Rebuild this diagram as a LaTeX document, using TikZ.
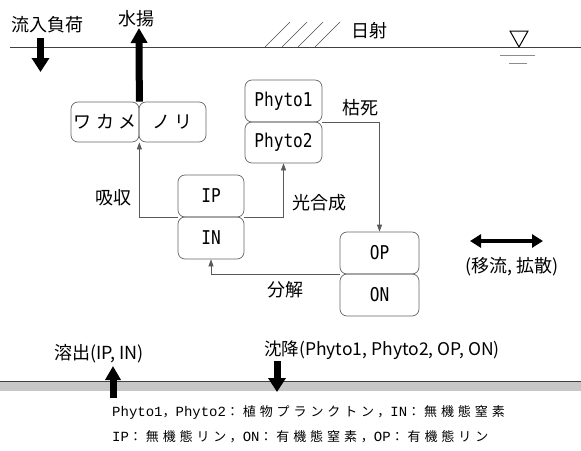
\documentclass[tikz,border=0pt]{standalone}
\usepackage{fontspec}
\setmainfont{Noto Sans CJK JP}
\newfontfamily\monofont[FakeStretch=0.85]{DejaVu Sans Mono}
\newfontfamily\boxjp[LetterSpace=25]{Noto Sans CJK JP}
\newfontfamily\legjp[LetterSpace=30]{Noto Sans CJK JP}
\newfontfamily\legmono{Liberation Mono}
\newcommand{\lm}[1]{{\legmono\fontsize{14}{14}\selectfont #1}}
\usetikzlibrary{arrows.meta}
\begin{document}
\begin{tikzpicture}[x=1pt,y=-1pt,
  box/.style={draw=black!60, rounded corners=7pt, line width=0.7pt, inner sep=0pt},
  lat/.style={font=\fontsize{19}{19}\monofont},
  jp/.style={font=\fontsize{18}{18}\boxjp},
  conn/.style={draw=black!65, line width=0.7pt, -{Triangle[length=7pt,width=5pt]}},
  lbl/.style={font=\fontsize{18}{18}\selectfont, inner sep=0pt},
  bigarrow/.style={line width=7pt, -{Triangle[length=14pt,width=17pt]}},
  leg/.style={font=\fontsize{13}{13}\legjp, inner sep=0pt, anchor=west},
]
\useasboundingbox (0,0) rectangle (581,450);
% water surface
\draw[line width=1pt, black!75] (10,47) -- (581,47);
% sunlight hatching
\foreach \xb in {265,282,298,315}
  \draw[black!70, line width=0.6pt] (\xb,47) -- (\xb+25,22);
\node[lbl] (sun) at (369,31) {日射};
% water level mark
\draw[line width=1pt] (510,31) -- (528,31) -- (519,47) -- cycle;
\draw[black!45, line width=0.8pt] (500,55) -- (535,55);
\draw[black!45, line width=0.8pt] (509,63) -- (527,63);
% boxes
\node[box, jp, minimum width=68pt, minimum height=40pt] (wakame) at (105,122) {ワカメ};
\node[box, jp, minimum width=67pt, minimum height=40pt] (nori) at (172.5,122) {ノリ};
\node[box, lat, minimum width=77pt, minimum height=42pt] (phyto1) at (283.5,101) {Phyto1};
\node[box, lat, minimum width=77pt, minimum height=41pt] (phyto2) at (283.5,142.5) {Phyto2};
\node[box, lat, minimum width=66pt, minimum height=42pt] (ip) at (211,196) {IP};
\node[box, lat, minimum width=66pt, minimum height=42pt] (in) at (211,238) {IN};
\node[box, lat, minimum width=79pt, minimum height=42pt] (op) at (379.5,253) {OP};
\node[box, lat, minimum width=79pt, minimum height=42pt] (on) at (379.5,295) {ON};
% connectors
\draw[conn] (ip.south west) -| (wakame.south east);
\draw[conn] (ip.south east) -| (phyto2.south);
\draw[conn] (phyto1.south east) -| (op.north);
\draw[conn] (op.south west) -| (in.south);
\node[lbl] (l1) at (113,198) {吸収};
\node[lbl] (l2) at (319,203) {光合成};
\node[lbl] (l3) at (360,108) {枯死};
\node[lbl] (l4) at (285,290) {分解};
% inflow / harvest
\node[lbl] (inflow) at (48,25) {流入負荷};
\coordinate (inA) at (40.5,38);
\coordinate (inB) at (40.5,72);
\draw[bigarrow] (inA) -- (inB);
\node[lbl] (harvest) at (136,19) {水揚};
\coordinate (hvB) at (139,28);
\draw[bigarrow, -{Triangle[length=15pt,width=16pt]}] (wakame.north east) -- (hvB);
% advection / diffusion
\coordinate (adA) at (470,241);
\coordinate (adB) at (543,241);
\draw[line width=4.5pt, {Triangle[length=11pt,width=13pt]}-{Triangle[length=11pt,width=13pt]}] (adA) -- (adB);
\node[lbl] (adv) at (512,267) {(移流, 拡散)};
% bottom
\fill[black!22] (0,381) rectangle (581,391);
\draw[line width=1pt, black!75] (0,381) -- (581,381);
\node[lbl] (dis) at (99,354) {溶出(IP, IN)};
\coordinate (dsA) at (113,398);
\coordinate (dsB) at (113,366);
\draw[bigarrow, -{Triangle[length=14pt,width=15pt]}] (dsA) -- (dsB);
\node[lbl, font=\fontsize{17.5}{17.5}\selectfont] (sed) at (382,350) {沈降(Phyto1, Phyto2, OP, ON)};
\coordinate (sdA) at (277,361);
\coordinate (sdB) at (277,392);
\draw[bigarrow] (sdA) -- (sdB);
% legend
\node[leg] (leg1) at (112,412) {\lm{Phyto1}，\lm{Phyto2}：植物プランクトン，\lm{IN}：無機態窒素};
\node[leg] (leg2) at (112,437) {\lm{IP}：無機態リン，\lm{ON}：有機態窒素，\lm{OP}：有機態リン};
\end{tikzpicture}
\end{document}
